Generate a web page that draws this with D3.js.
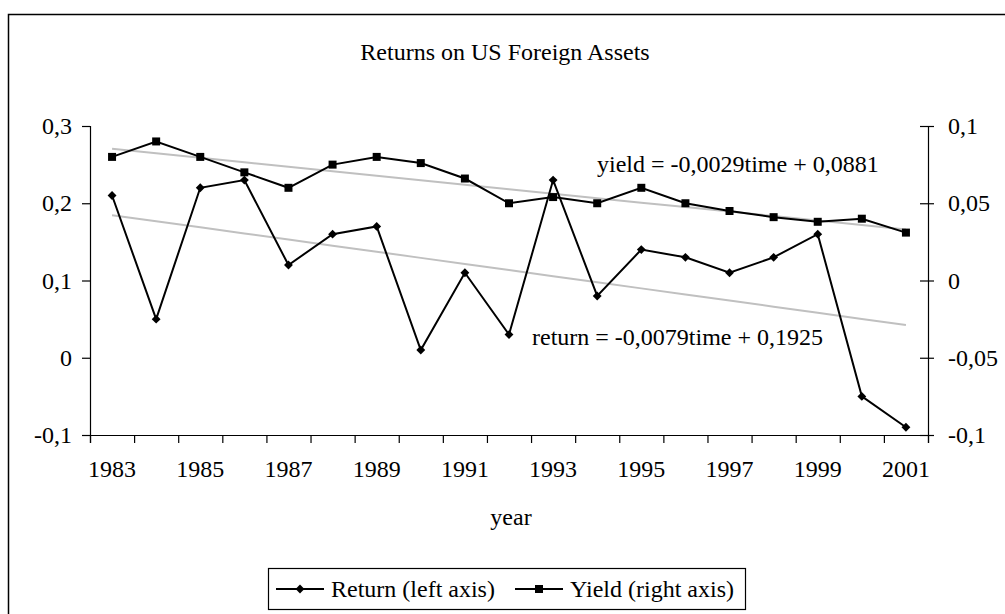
<!DOCTYPE html>
<html>
<head>
<meta charset="utf-8">
<script src="https://cdn.jsdelivr.net/npm/d3@7"></script>
<style>
  body { margin: 0; background: #fff; }
  text { font-family: "Liberation Serif", "Times New Roman", serif; fill: #000; }
</style>
</head>
<body>
<div id="chart"></div>
<script>
// Data
var years = [1983, 1984, 1985, 1986, 1987, 1988, 1989, 1990, 1991, 1992,
             1993, 1994, 1995, 1996, 1997, 1998, 1999, 2000, 2001];
var returnValues = [0.21, 0.05, 0.22, 0.23, 0.12, 0.16, 0.17, 0.01, 0.11, 0.03,
                    0.23, 0.08, 0.14, 0.13, 0.11, 0.13, 0.16, -0.05, -0.09];
var yieldValues = [0.08, 0.09, 0.08, 0.07, 0.06, 0.075, 0.08, 0.076, 0.066, 0.05,
                   0.054, 0.05, 0.06, 0.05, 0.045, 0.041, 0.038, 0.04, 0.031];
var leftTicks = [-0.1, 0, 0.1, 0.2, 0.3];
var rightTicks = [-0.1, -0.05, 0, 0.05, 0.1];
var yearLabels = [1983, 1985, 1987, 1989, 1991, 1993, 1995, 1997, 1999, 2001];
// trend lines: value = slope * time + intercept, time = 1..19
var returnTrend = [-0.0079, 0.1925];
var yieldTrend = [-0.0029, 0.0881];

var svgWidth = 1005;
var svgHeight = 614;

var plot = { left: 90, right: 928, top: 126, bottom: 435 };

var svg = d3.select("#chart")
    .append("svg")
    .attr("width", svgWidth)
    .attr("height", svgHeight);

// outer chart border (cut off at right and bottom)
svg.append("rect")
    .attr("x", 8.5)
    .attr("y", 14.5)
    .attr("width", 1010)
    .attr("height", 620)
    .attr("fill", "none")
    .attr("stroke", "#000")
    .attr("stroke-width", 1.5);

var locale = d3.formatLocale({ decimal: ",", thousands: " ", grouping: [3], currency: ["", ""], minus: "-" });
var fmt = locale.format("~g");

// Scales
var xScale = d3.scaleBand()
    .domain(years)
    .range([plot.left, plot.right])
    .padding(0);

var xEdges = d3.scaleLinear()
    .domain([0, years.length])
    .range([plot.left, plot.right]);

var yLeft = d3.scaleLinear()
    .domain([-0.1, 0.3])
    .range([plot.bottom, plot.top]);

var yRight = d3.scaleLinear()
    .domain([-0.1, 0.1])
    .range([plot.bottom, plot.top]);

var cx = d => xScale(d) + xScale.bandwidth() / 2;

// Axes
var leftAxis = svg.append("g")
    .attr("transform", `translate(${plot.left}, 0)`)
    .call(d3.axisLeft(yLeft).tickValues(leftTicks).tickFormat(fmt).tickSize(8).tickPadding(10));

var rightAxis = svg.append("g")
    .attr("transform", `translate(${plot.right}, 0)`)
    .call(d3.axisRight(yRight).tickValues(rightTicks).tickFormat(fmt).tickSize(6).tickPadding(14));
rightAxis.selectAll(".tick line").attr("x1", -8);

var bottomTicks = svg.append("g")
    .attr("transform", `translate(0, ${plot.bottom})`)
    .call(d3.axisBottom(xEdges).tickValues(d3.range(years.length + 1)).tickFormat("").tickSize(8));

var bottomLabels = svg.append("g")
    .attr("transform", `translate(0, ${plot.bottom})`)
    .call(d3.axisBottom(xScale).tickValues(yearLabels).tickSize(0).tickPadding(25));
bottomLabels.select(".domain").remove();

svg.selectAll(".domain").attr("stroke", "#000").attr("stroke-width", 1.2);
svg.selectAll(".tick line").attr("stroke", "#000").attr("stroke-width", 1.2);
svg.selectAll(".tick text")
    .style("font-family", "'Liberation Serif', serif")
    .style("font-size", "24px")
    .attr("fill", "#000");

// Trend lines
function trendPoints(coef) {
  return years.map((y, i) => [cx(y), coef[0] * (i + 1) + coef[1]]);
}

svg.append("path")
    .datum(trendPoints(returnTrend))
    .attr("fill", "none")
    .attr("stroke", "#c0c0c0")
    .attr("stroke-width", 2)
    .attr("d", d3.line().x(d => d[0]).y(d => yLeft(d[1])));

svg.append("path")
    .datum(trendPoints(yieldTrend))
    .attr("fill", "none")
    .attr("stroke", "#c0c0c0")
    .attr("stroke-width", 2)
    .attr("d", d3.line().x(d => d[0]).y(d => yRight(d[1])));

// Series lines
svg.append("path")
    .datum(returnValues)
    .attr("fill", "none")
    .attr("stroke", "#000")
    .attr("stroke-width", 2)
    .attr("d", d3.line().x((d, i) => cx(years[i])).y(d => yLeft(d)));

svg.append("path")
    .datum(yieldValues)
    .attr("fill", "none")
    .attr("stroke", "#000")
    .attr("stroke-width", 2)
    .attr("d", d3.line().x((d, i) => cx(years[i])).y(d => yRight(d)));

// Markers
var diamond = d3.symbol().type(d3.symbolDiamond2).size(50);
var square = d3.symbol().type(d3.symbolSquare).size(64);

svg.selectAll(".retMark")
    .data(returnValues)
    .enter()
    .append("path")
    .attr("class", "retMark")
    .attr("d", diamond)
    .attr("transform", (d, i) => `translate(${cx(years[i])}, ${yLeft(d)})`)
    .attr("fill", "#000");

svg.selectAll(".yldMark")
    .data(yieldValues)
    .enter()
    .append("path")
    .attr("class", "yldMark")
    .attr("d", square)
    .attr("transform", (d, i) => `translate(${cx(years[i])}, ${yRight(d)})`)
    .attr("fill", "#000");

// Texts
svg.append("text")
    .attr("x", 505)
    .attr("y", 60)
    .attr("text-anchor", "middle")
    .style("font-size", "24px")
    .text("Returns on US Foreign Assets");

svg.append("text")
    .attr("x", cx(1992) + 2)
    .attr("y", 525)
    .attr("text-anchor", "middle")
    .style("font-size", "24px")
    .text("year");

svg.append("text")
    .attr("x", 597)
    .attr("y", 172)
    .style("font-size", "24px")
    .text("yield = -0,0029time + 0,0881");

svg.append("text")
    .attr("x", 532)
    .attr("y", 345)
    .style("font-size", "24px")
    .text("return = -0,0079time + 0,1925");

// Legend
var legend = svg.append("g");
legend.append("rect")
    .attr("x", 268.5)
    .attr("y", 568.5)
    .attr("width", 477)
    .attr("height", 41)
    .attr("fill", "#fff")
    .attr("stroke", "#000")
    .attr("stroke-width", 1.2);

var legendItems = [
  { label: "Return (left axis)", x0: 276, symbol: diamond },
  { label: "Yield (right axis)", x0: 515, symbol: square }
];

legendItems.forEach(function(item) {
  legend.append("line")
    .attr("x1", item.x0).attr("x2", item.x0 + 48)
    .attr("y1", 589).attr("y2", 589)
    .attr("stroke", "#000").attr("stroke-width", 2);
  legend.append("path")
    .attr("d", item.symbol)
    .attr("transform", `translate(${item.x0 + 24}, 589)`)
    .attr("fill", "#000");
  legend.append("text")
    .attr("x", item.x0 + 55)
    .attr("y", 597)
    .style("font-size", "24px")
    .text(item.label);
});
</script>
</body>
</html>
